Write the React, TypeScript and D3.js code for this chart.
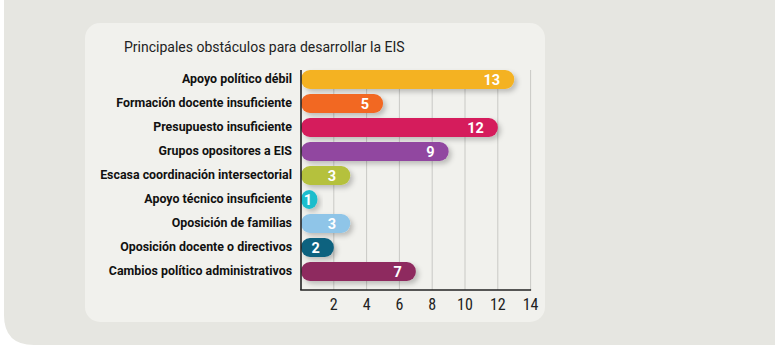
import React from "react";
import * as d3 from "d3";

const categories = [
  "Apoyo político débil",
  "Formación docente insuficiente",
  "Presupuesto insuficiente",
  "Grupos opositores a EIS",
  "Escasa coordinación intersectorial",
  "Apoyo técnico insuficiente",
  "Oposición de familias",
  "Oposición docente o directivos",
  "Cambios político administrativos",
];
const values = [13, 5, 12, 9, 3, 1, 3, 2, 7];
const barColors = [
  "#f4b223",
  "#f26724",
  "#d51b5c",
  "#9147a0",
  "#b5c13c",
  "#1fbdcc",
  "#8fc5e8",
  "#11627f",
  "#8e2c5e",
];
const tickValues = [2, 4, 6, 8, 10, 12, 14];
const title = "Principales obstáculos para desarrollar la EIS";

const W = 775;
const H = 345;

export default function App() {
  const x = d3.scaleLinear().domain([0, 14]).range([301, 530.6]);
  const y = d3
    .scaleBand<string>()
    .domain(categories)
    .range([67.5, 67.5 + 24 * categories.length])
    .paddingInner(0.2)
    .paddingOuter(0.1);
  const bh = 19;
  const axisY = 290;
  const gridTop = 70;
  const font = "Roboto, 'Noto Sans', sans-serif";
  const narrow = "'Liberation Sans Narrow', 'Roboto Condensed', 'DejaVu Sans Condensed', Roboto, sans-serif";

  return (
    <div style={{ position: "absolute", left: 0, top: 0, width: W, height: H }}>
      <svg width={W} height={H} style={{ display: "block" }}>
        <defs>
          <filter id="shadow" x="-20%" y="-50%" width="150%" height="220%">
            <feDropShadow dx="3" dy="3" stdDeviation="2.5" floodColor="#000" floodOpacity="0.22" />
          </filter>
        </defs>
        <rect x={0} y={0} width={W} height={H} fill="#ffffff" />
        <path
          d={`M4,-1 L${W + 1},-1 L${W + 1},345 L34,345 Q4,345 4,315 Z`}
          fill="#e6e6e1"
        />
        <rect x={85} y={23} width={460} height={299} rx={15} ry={15} fill="#f1f1ed" />
        <text x={124} y={52} fontFamily={font} fontSize={14} fill="#222">
          {title}
        </text>
        {tickValues.map((t) => (
          <line
            key={"g" + t}
            x1={x(t)}
            x2={x(t)}
            y1={gridTop}
            y2={axisY}
            stroke="#c9c9c5"
            strokeWidth={1}
          />
        ))}
        {categories.map((c, i) => {
          const cy = (y(c) as number) + y.bandwidth() / 2;
          const x0 = x(0);
          const x1 = x(values[i]);
          const w = Math.max(x1 - x0, bh * 0.85);
          return (
            <rect
              key={c}
              x={x0}
              y={cy - bh / 2}
              width={w}
              height={bh}
              rx={9}
              ry={9}
              fill={barColors[i]}
              filter="url(#shadow)"
            />
          );
        })}
        {categories.map((c, i) => {
          const cy = (y(c) as number) + y.bandwidth() / 2;
          const ex = Math.max(x(values[i]) - 14, 312);
          return (
            <text
              key={"v" + c}
              x={ex}
              y={cy + 5}
              textAnchor="end"
              fontFamily={font}
              fontWeight={700}
              fontSize={14.5}
              fill="#ffffff"
            >
              {values[i]}
            </text>
          );
        })}
        {categories.map((c) => {
          const cy = (y(c) as number) + y.bandwidth() / 2;
          return (
            <text
              key={"l" + c}
              x={292}
              y={cy + 3}
              textAnchor="end"
              fontFamily={font}
              fontWeight={700}
              fontSize={12.4}
              fill="#111"
            >
              {c}
            </text>
          );
        })}
        <line x1={x(0)} x2={x(0)} y1={gridTop} y2={axisY} stroke="#222" strokeWidth={1.6} />
        <line x1={x(0) - 0.8} x2={x(14) + 0.5} y1={axisY} y2={axisY} stroke="#222" strokeWidth={1.6} />
        {tickValues.map((t) => (
          <text
            key={"t" + t}
            x={x(t)}
            y={310}
            textAnchor="middle"
            fontFamily={narrow}
            fontSize={16}
            fill="#222"
          >
            {t}
          </text>
        ))}
      </svg>
    </div>
  );
}
